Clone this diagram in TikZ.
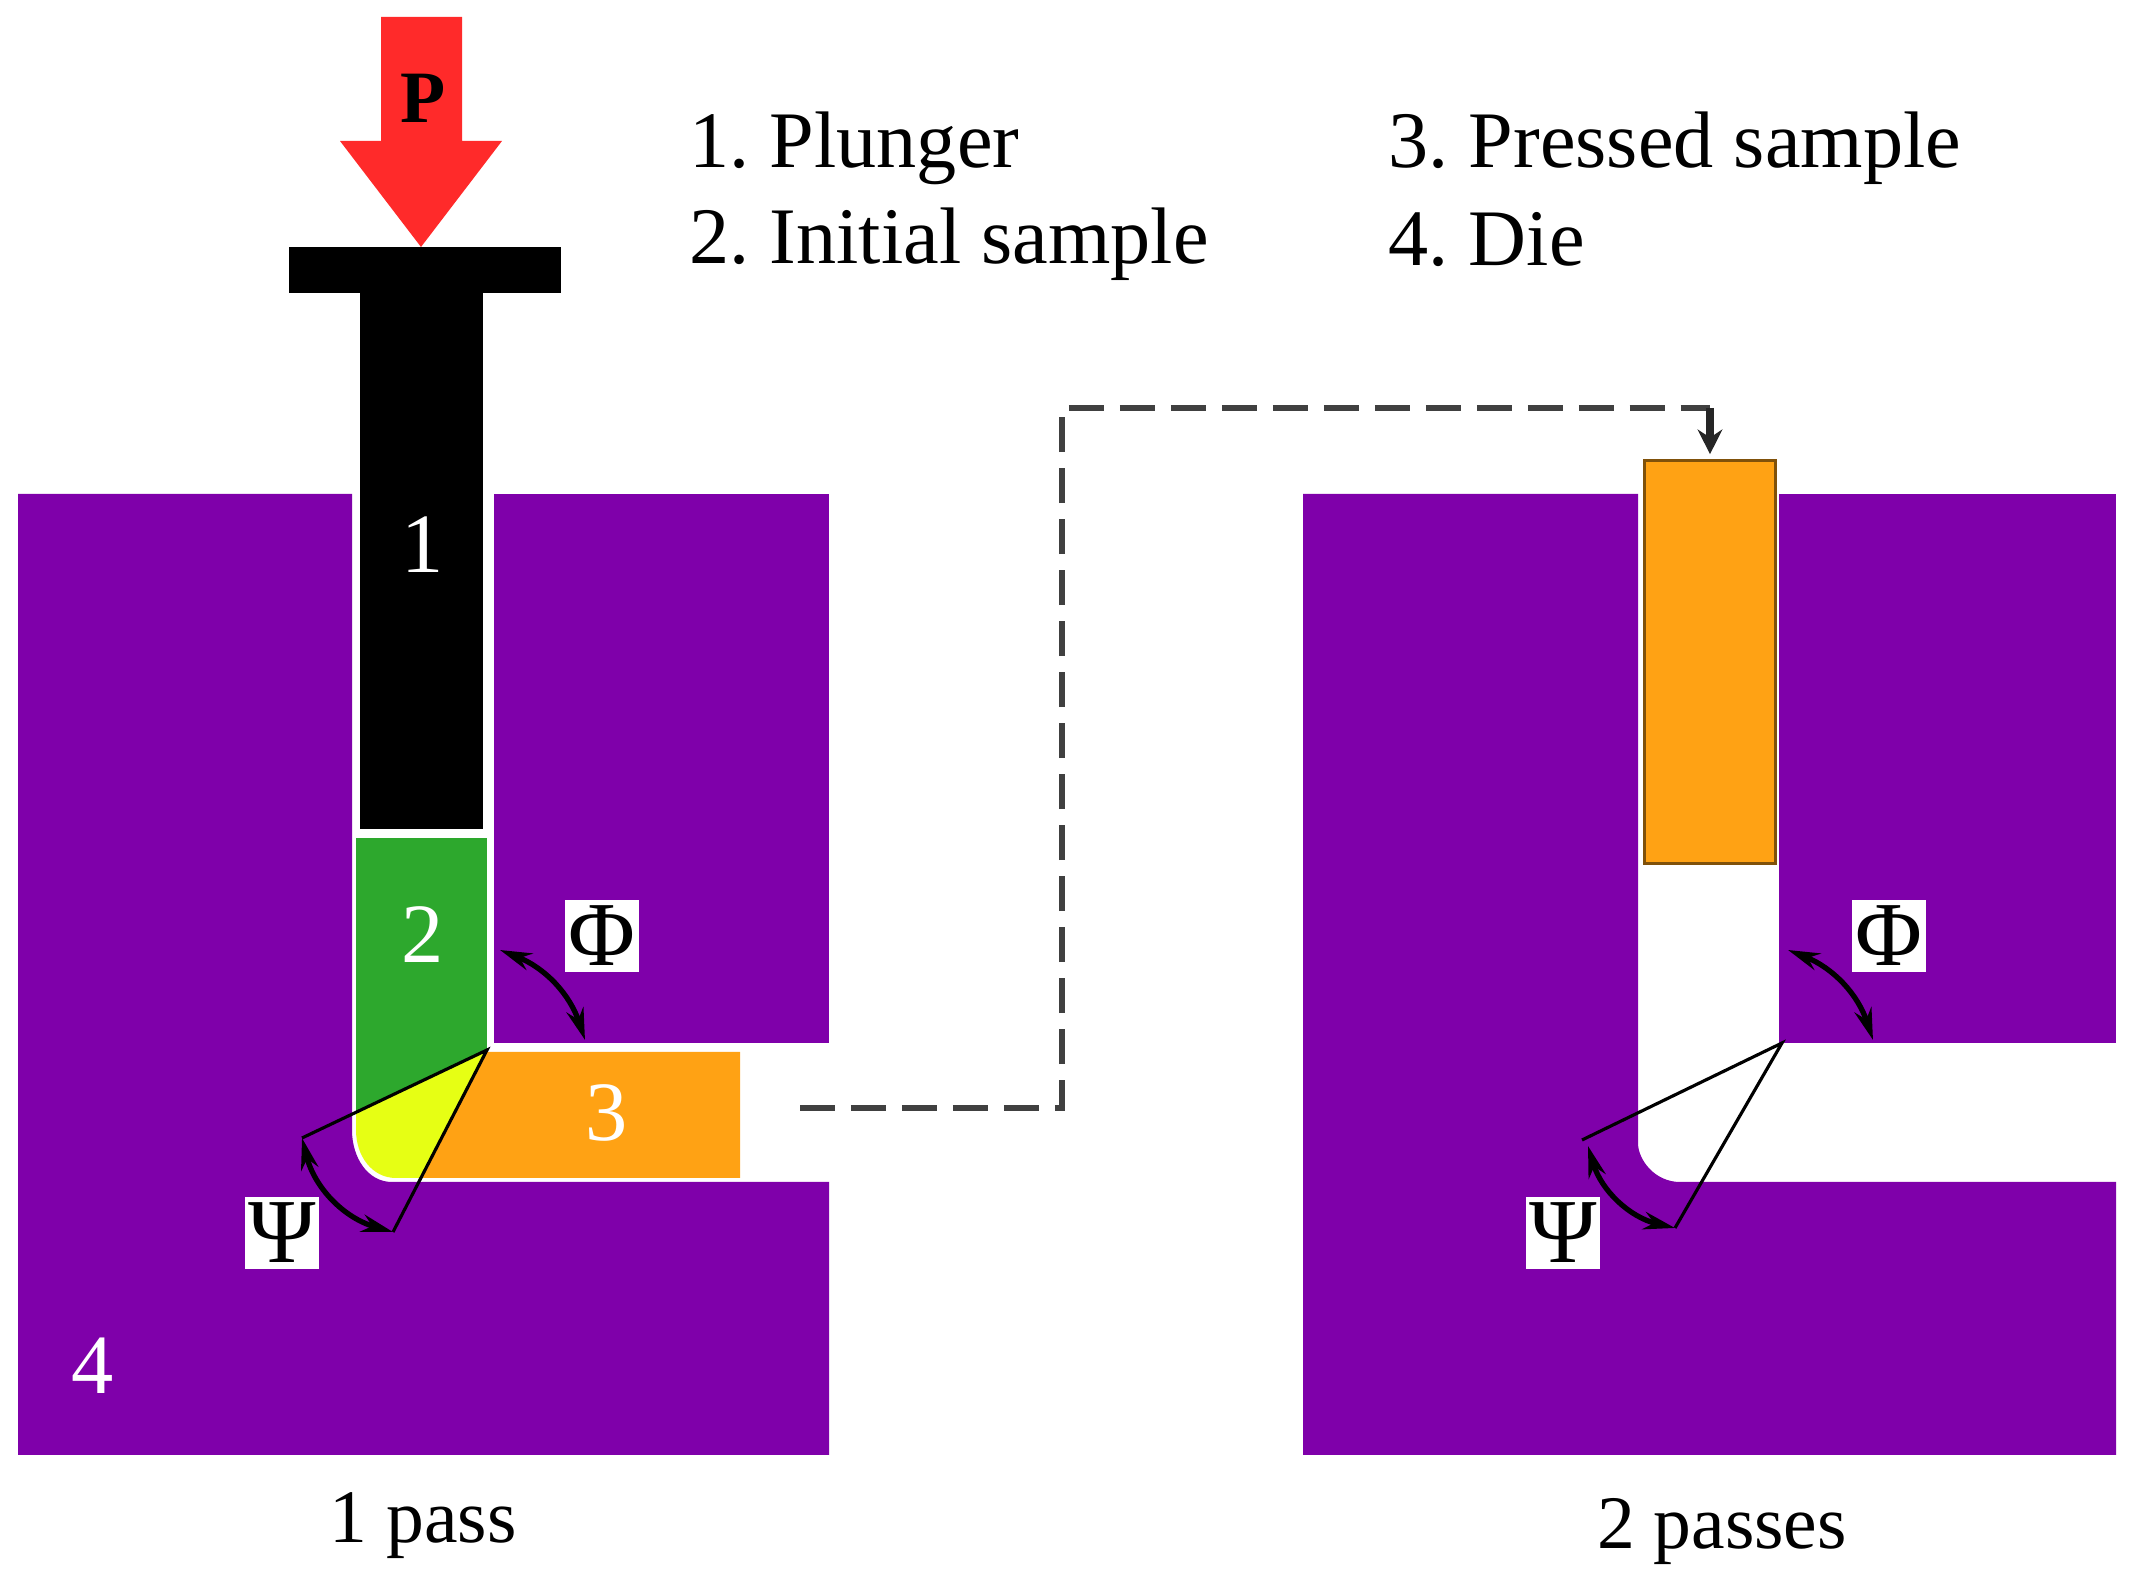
\documentclass[tikz,border=0pt]{standalone}
\usepackage{fontspec}
\setmainfont{Liberation Serif}
\usetikzlibrary{arrows.meta}
\definecolor{diepurple}{HTML}{7F00AA}
\definecolor{samplegreen}{HTML}{2DA82D}
\definecolor{sampleorange}{HTML}{FFA214}
\definecolor{wedgeyellow}{HTML}{E6FF14}
\definecolor{forcered}{HTML}{FF2A2A}
\begin{document}
\begin{tikzpicture}[
    x=0.01cm, y=-0.01cm,
    die/.style={fill=diepurple},
    pressed/.style={rectangle, draw=black!50!sampleorange, line width=0.8pt, fill=sampleorange, minimum width=1.31cm, minimum height=4.02cm, inner sep=0pt},
    legend/.style={font=\fontsize{22.8}{27}\selectfont\frenchspacing, anchor=base west, inner sep=0pt},
    caption/.style={font=\fontsize{21.5}{25}\selectfont\frenchspacing, anchor=base, inner sep=0pt},
    digit/.style={font=\fontsize{24}{28}\selectfont, text=white, inner sep=0pt},
    anglebox/.style={fill=white, minimum width=0.74cm, minimum height=0.71cm, inner sep=0pt, font=\fontsize{26}{30}\selectfont},
    wedge/.style={draw=black, line width=0.9pt},
    anglearc/.style={draw=black, line width=1.5pt, {Stealth[length=9pt,width=5pt]}-{Stealth[length=9pt,width=5pt]}}
]
\useasboundingbox (0,0) rectangle (2138,1589);

% left die
\fill[die] (18,494) -- (352,494) -- (352,1130) .. controls (352,1158) and (368,1182) .. (392,1182) -- (829,1182) -- (829,1455) -- (18,1455) -- cycle;
\fill[die] (494,494) rectangle (829,1043);

% plunger and load
\fill[black] (289,247) rectangle (561,293);
\fill[black] (360,293) rectangle (483,829);
\fill[forcered] (381,17) -- (462,17) -- (462,141) -- (502,141) -- (421,247) -- (340,141) -- (381,141) -- cycle;
\node[font=\fontsize{21}{25}\selectfont\bfseries, inner sep=0pt] (load) at (423,98) {P};

% samples in the left die
\coordinate (apexl) at (487,1050);
\coordinate (psil) at (302,1138);
\coordinate (psibl) at (393,1232);
\fill[samplegreen] (356,838) rectangle (487,1050);
\fill[sampleorange] (487,1052) -- (740,1052) -- (740,1178) -- (421,1178) -- cycle;
\fill[wedgeyellow] (apexl) -- (356,1112) -- (356,1130) .. controls (356,1156) and (372,1178) .. (396,1178) -- (421,1178) -- cycle;
\fill[samplegreen] (apexl) -- (356,1112) -- (356,1050) -- cycle;
\draw[wedge] (psil) -- (apexl) -- (psibl);
\node[digit] (one) at (423,545) {1};
\node[digit] (two) at (423,935) {2};
\node[digit] (three) at (607,1113) {3};
\node[digit] (four) at (93,1366) {4};

% angles, left
\node[anglebox] (phil) at (602,936) {Φ};
\node[anglebox] (psl) at (282,1233) {Ψ};
\draw[anglearc] (500,950) to[bend left=25] (585,1040);
\draw[anglearc] (psil) to[bend right=30] (psibl);

% right die
\fill[die] (1303,494) -- (1638,494) -- (1638,1143) .. controls (1638,1160) and (1655,1182) .. (1680,1182) -- (2116,1182) -- (2116,1455) -- (1303,1455) -- cycle;
\fill[die] (1779,494) rectangle (2116,1043);
\node[pressed] (sampler) at (1710,662) {};

% angles, right
\coordinate (apexr) at (1782,1043);
\coordinate (psir) at (1582,1140);
\coordinate (psibr) at (1675,1228);
\draw[wedge] (psir) -- (apexr) -- (psibr);
\node[anglebox] (phir) at (1889,936) {Φ};
\node[anglebox] (psr) at (1563,1233) {Ψ};
\draw[anglearc] (1788,950) to[bend left=25] (1873,1040);
\draw[anglearc] (1588,1146) to[bend right=30] (psibr);

% transfer between the passes
\coordinate (transfer) at (800,1108);
\coordinate (turn) at (1710,408);
\draw[black!75, line width=1.7pt, dash pattern=on 10pt off 4.5pt] (transfer) -- (1062,1108) -- (1062,408) -- (turn);
\draw[black!85, line width=2pt, -{Stealth[length=7pt,width=7pt]}, shorten >=1.5pt] (turn) -- (sampler.north);

% legend
\node[legend] (plunger) at (689,168) {1. Plunger};
\node[legend] (initial) at (689,264) {2. Initial sample};
\node[legend] (sample) at (1388,168) {3. Pressed sample};
\node[legend] (dielabel) at (1388,266) {4. Die};
\node[caption] (pass) at (423,1543) {1 pass};
\node[caption] (passes) at (1722,1549) {2 passes};
\end{tikzpicture}
\end{document}
